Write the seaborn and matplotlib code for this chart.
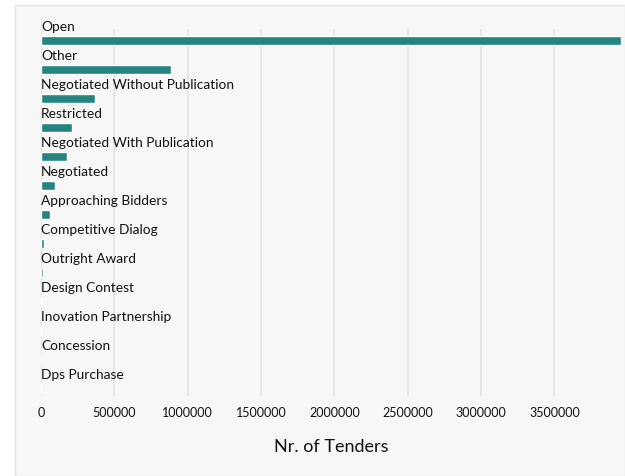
import matplotlib
matplotlib.use("Agg")
import matplotlib.pyplot as plt
import matplotlib.patches as mpatches
import pandas as pd
import seaborn as sns

# ── dados ────────────────────────────────────────────────────────────────────
procedures = ["Open", "Other", "Negotiated Without Publication", "Restricted",
              "Negotiated With Publication", "Negotiated", "Approaching Bidders",
              "Competitive Dialog", "Outright Award", "Design Contest",
              "Inovation Partnership", "Concession", "Dps Purchase"]
n_tenders = [3954000, 887000, 368000, 213000, 175000, 98000, 61000,
             20000, 13000, 9000, 1200, 600, 300]
xticks = [0, 500000, 1000000, 1500000, 2000000, 2500000, 3000000, 3500000]

df = pd.DataFrame({"procedure": procedures, "tenders": n_tenders})

sns.set_style("white")
plt.rcParams["font.family"] = ["Lato", "DejaVu Sans"]

BAR = "#268480"
PANEL = "#f7f7f7"
TXT = "#111111"

fig = plt.figure(figsize=(6.25, 4.76), dpi=100, facecolor="white")
fig.patches.append(mpatches.Rectangle((15 / 625, 0), 1 - 15 / 625, 1 - 5 / 476,
                                      transform=fig.transFigure,
                                      facecolor=PANEL, edgecolor="#e4e4e4",
                                      linewidth=1.0, zorder=-10))
ax = fig.add_axes([41 / 625, 1 - 396 / 476, 580 / 625, 367 / 476])
ax.set_facecolor("none")

sns.barplot(data=df, y="procedure", x="tenders", orient="h", color=BAR,
            saturation=1, width=0.29, ax=ax, zorder=3)

# rótulos acima de cada barra
for i, name in enumerate(procedures):
    ax.text(0, i - 0.47, name, ha="left", va="center", fontsize=9.9,
            color=TXT, clip_on=False, zorder=4)

ax.set_xlim(0, n_tenders[0])
ax.set_ylim(12.26, -0.40)
ax.set_xticks(xticks)
ax.set_xticklabels([str(t) for t in xticks], fontsize=9, color=TXT)
ax.set_yticks([])
ax.set_ylabel("")
ax.set_xlabel("Nr. of Tenders", fontsize=13, color=TXT, labelpad=14)
ax.tick_params(axis="x", length=0, pad=8)
ax.grid(axis="x", color="#e2e2e2", linewidth=1.2, zorder=0)
for s in ax.spines.values():
    s.set_visible(False)

fig.savefig("out.png", dpi=100, facecolor=fig.get_facecolor())
